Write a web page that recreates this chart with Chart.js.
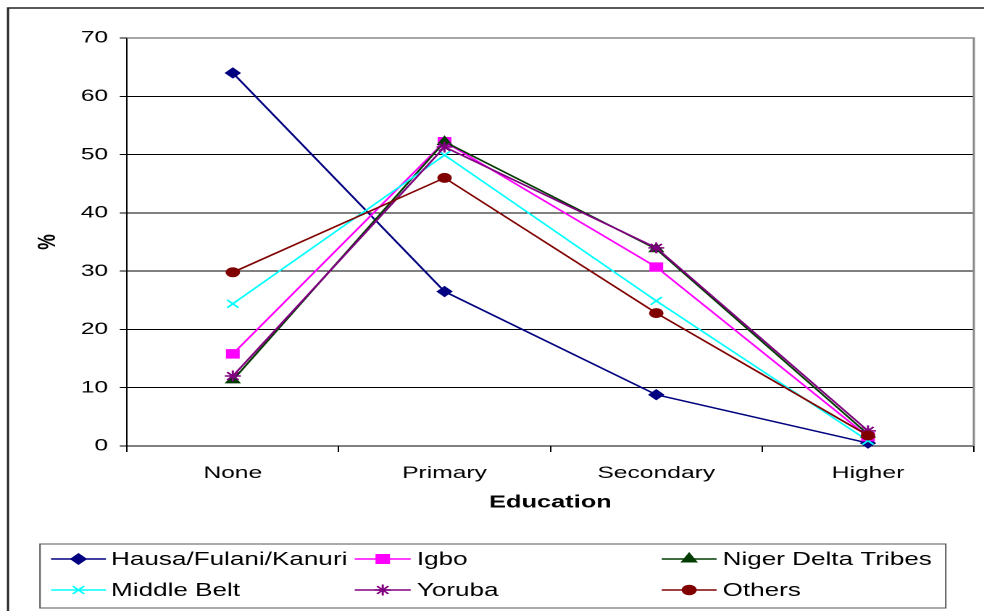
<!DOCTYPE html>
<html>
<head>
<meta charset="utf-8">
<script src="https://cdn.jsdelivr.net/npm/chart.js@4/dist/chart.umd.min.js"></script>
<style>
  html, body { margin: 0; padding: 0; background: #fff; overflow: hidden; }
  /* the chart is laid out narrow and widened to the full page width */
  #wrap { width: 679px; height: 611px; transform: scaleX(1.44919); transform-origin: 0 0; }
</style>
</head>
<body>
<div id="wrap"><canvas id="c" width="679" height="611"></canvas></div>
<script>
// Education level by ethnic group, percent
const categories = ['None', 'Primary', 'Secondary', 'Higher'];
const hausaFulaniKanuri = [64, 26.5, 8.8, 0.5];
const igbo = [15.8, 52.2, 30.7, 1.6];
const nigerDeltaTribes = [11.3, 52.2, 33.8, 2.0];
const middleBelt = [24.4, 49.9, 24.9, 0.9];
const yoruba = [12, 51.3, 34, 2.6];
const others = [29.8, 46, 22.8, 1.8];
const yTicks = [0, 10, 20, 30, 40, 50, 60, 70];

const FONT = "'Liberation Sans', Arial, Helvetica, sans-serif";
Chart.defaults.font.family = FONT;

const series = [
  { label: 'Hausa/Fulani/Kanuri', data: hausaFulaniKanuri, color: '#000080', style: 'rectRot', r: 5 },
  { label: 'Igbo', data: igbo, color: '#FF00FF', style: 'rect', r: 6 },
  { label: 'Niger Delta Tribes', data: nigerDeltaTribes, color: '#003C00', style: 'triangle', r: 5.5 },
  { label: 'Middle Belt', data: middleBelt, color: '#00FFFF', style: 'crossRot', r: 5.5 },
  { label: 'Yoruba', data: yoruba, color: '#800080', style: 'star', r: 5.5 },
  { label: 'Others', data: others, color: '#800000', style: 'circle', r: 4.5 }
];

const datasets = series.map((s, i) => ({
  label: s.label,
  data: s.data,
  borderColor: s.color,
  backgroundColor: s.color,
  borderWidth: 1.5,
  tension: 0,
  pointStyle: s.style,
  pointRadius: s.r,
  pointBackgroundColor: s.color,
  pointBorderColor: s.color,
  pointBorderWidth: (s.style === 'crossRot' || s.style === 'star') ? 1.5 : 1,
  clip: false,
  order: series.length - 1 - i
}));

// outer frame, plot-area border and the boxed legend
const decorations = {
  id: 'decorations',
  beforeDatasetsDraw(chart) {
    const { ctx, chartArea } = chart;
    ctx.save();
    ctx.strokeStyle = '#8a8a8a';
    ctx.lineWidth = 1.5;
    ctx.beginPath();
    ctx.moveTo(chartArea.left, chartArea.top);
    ctx.lineTo(chartArea.right, chartArea.top);
    ctx.lineTo(chartArea.right, chartArea.bottom);
    ctx.stroke();
    ctx.restore();
  },
  afterDraw(chart) {
    const ctx = chart.ctx;
    ctx.save();
    // frame round the whole chart
    ctx.strokeStyle = '#222';
    ctx.lineWidth = 1.5;
    ctx.strokeRect(5.5, 8, 720, 700);

    // legend box
    ctx.strokeStyle = '#555';
    ctx.lineWidth = 1;
    ctx.strokeRect(27.6, 544, 625, 64);

    const cols = [
      { x0: 35.2, x1: 73.1, tx: 76.6 },
      { x0: 244.8, x1: 283.4, tx: 287.6 },
      { x0: 456.6, x1: 494.5, tx: 498.6 }
    ];
    const rows = [559, 590];
    ctx.font = '18px ' + FONT;
    ctx.textBaseline = 'middle';
    ctx.textAlign = 'left';
    chart.data.datasets.forEach((ds, i) => {
      const c = cols[i % 3];
      const y = rows[Math.floor(i / 3)];
      ctx.strokeStyle = ds.borderColor;
      ctx.fillStyle = ds.borderColor;
      ctx.lineWidth = 1.5;
      ctx.beginPath();
      ctx.moveTo(c.x0, y);
      ctx.lineTo(c.x1, y);
      ctx.stroke();
      Chart.helpers.drawPoint(ctx, {
        pointStyle: ds.pointStyle,
        radius: ds.pointRadius,
        rotation: 0,
        borderWidth: ds.pointBorderWidth
      }, (c.x0 + c.x1) / 2, y);
      ctx.fillStyle = '#000';
      ctx.fillText(ds.label, c.tx, y + 1);
    });
    ctx.restore();
  }
};

new Chart(document.getElementById('c'), {
  type: 'line',
  data: { labels: categories, datasets },
  plugins: [decorations],
  options: {
    responsive: false,
    animation: false,
    devicePixelRatio: 2,
    layout: { padding: { left: 0, right: 5.2, top: 38, bottom: 95 } },
    plugins: { legend: { display: false }, tooltip: { enabled: false } },
    scales: {
      x: {
        type: 'category',
        offset: true,
        grid: { offset: true, drawOnChartArea: false, drawTicks: true, tickLength: 6, color: '#000', tickColor: '#000' },
        border: { color: '#000', width: 1 },
        ticks: { color: '#000', font: { size: 17 }, padding: 11, maxRotation: 0, autoSkip: false },
        title: { display: true, text: 'Education', color: '#000', font: { size: 17.5, weight: 'bold' }, padding: { top: 0, bottom: 3 } },
        afterFit(s) { s.height = 70; }
      },
      y: {
        min: yTicks[0],
        max: yTicks[yTicks.length - 1],
        afterBuildTicks(s) { s.ticks = yTicks.map(v => ({ value: v })); },
        ticks: { color: '#000', font: { size: 17 }, padding: 8 },
        grid: {
          color: c => (c.tick && c.tick.value === 70) ? '#8a8a8a' : '#000',
          tickColor: '#000',
          tickLength: 5,
          lineWidth: 1
        },
        border: { color: '#000', width: 1 },
        title: { display: true, text: '%', color: '#000', font: { size: 17.5, weight: 'bold' }, padding: { top: 22.5, bottom: 0 } },
        afterFit(s) { s.width = 87.6; }
      }
    }
  }
});
</script>
</body>
</html>
